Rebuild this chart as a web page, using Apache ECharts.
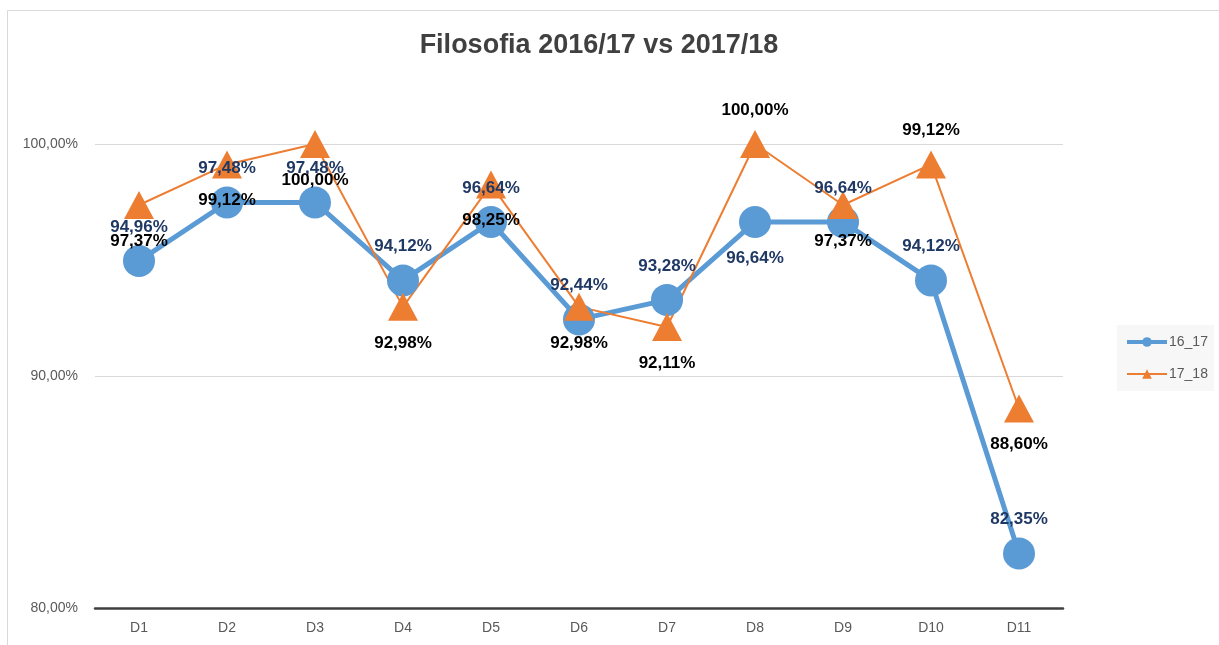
<!DOCTYPE html>
<html>
<head>
<meta charset="utf-8">
<script src="https://cdn.jsdelivr.net/npm/echarts@6/dist/echarts.min.js"></script>
<style>
html,body{margin:0;padding:0;background:#fff;}
#c{width:1219px;height:645px;}
</style>
</head>
<body>
<div id="c"></div>
<script>
const categories = ['D1','D2','D3','D4','D5','D6','D7','D8','D9','D10','D11'];
const s1617 = [94.96, 97.48, 97.48, 94.12, 96.64, 92.44, 93.28, 96.64, 96.64, 94.12, 82.35];
const s1718 = [97.37, 99.12, 100.00, 92.98, 98.25, 92.98, 92.11, 100.00, 97.37, 99.12, 88.60];
const seriesNames = ['16_17', '17_18'];
const yTicks = [80, 90, 100];

// label placement (above/below) per point
const below1617 = new Set([7]);
const above1718 = new Set([7, 9]);

const fmt = v => v.toFixed(2).replace('.', ',') + '%';
const FONT = "'Liberation Sans', Arial, sans-serif";

function labelled(values, isAbove, color) {
  return values.map((v, i) => {
    const up = isAbove(i);
    return {
      value: v,
      label: {
        show: true,
        position: 'inside',
        offset: [0, up ? -34 : 36],
        formatter: p => fmt(p.value),
        color: color,
        fontFamily: FONT,
        fontWeight: 'bold',
        fontSize: 17
      }
    };
  });
}

const chart = echarts.init(document.getElementById('c'), null, {renderer: 'canvas'});
chart.setOption({
  animation: false,
  backgroundColor: '#fff',
  title: {
    text: 'Filosofia 2016/17 vs 2017/18',
    left: 594, top: 27, textAlign: 'center',
    textStyle: {fontFamily: FONT, fontWeight: 'bold', fontSize: 27, color: '#404040'}
  },
  graphic: [{
    type: 'rect', silent: true, z: -10,
    shape: {x: 7.5, y: 10.5, width: 1300, height: 700},
    style: {fill: 'none', stroke: '#d9d9d9', lineWidth: 1}
  }],
  legend: {
    orient: 'vertical',
    left: 1117, top: 325,
    padding: [10, 6, 10, 8],
    backgroundColor: '#f7f7f7',
    itemWidth: 40, itemHeight: 12, itemGap: 18,
    data: [
      {name: seriesNames[0], lineStyle: {width: 4}},
      {name: seriesNames[1], lineStyle: {width: 2}}
    ],
    textStyle: {fontFamily: FONT, fontSize: 14, color: '#595959', padding: [0, 0, 0, -3]}
  },
  grid: {left: 95, right: 1219 - 1063, top: 28, bottom: 645 - 608, containLabel: false},
  xAxis: {
    type: 'category',
    data: categories,
    boundaryGap: true,
    axisLine: {show: true, lineStyle: {color: '#404040', width: 2.5}},
    axisTick: {show: false},
    axisLabel: {fontFamily: FONT, fontSize: 14, color: '#595959', margin: 13}
  },
  yAxis: {
    type: 'value',
    min: yTicks[0], max: 105, interval: yTicks[1] - yTicks[0],
    axisLine: {show: false},
    axisTick: {show: false},
    axisLabel: {
      fontFamily: FONT, fontSize: 14, color: '#595959', margin: 17,
      showMaxLabel: false,
      formatter: v => (yTicks.indexOf(v) >= 0 ? fmt(v) : '')
    },
    splitLine: {show: true, showMaxLine: false, showMinLine: false, lineStyle: {color: '#d9d9d9', width: 1}}
  },
  series: [
    {
      name: seriesNames[0],
      type: 'line',
      data: labelled(s1617, i => !below1617.has(i), '#1f3864'),
      symbol: 'circle',
      symbolSize: 32,
      lineStyle: {color: '#5b9bd5', width: 5},
      itemStyle: {color: '#5b9bd5'},
      z: 2
    },
    {
      name: seriesNames[1],
      type: 'line',
      data: labelled(s1718, i => above1718.has(i), '#000000'),
      symbol: 'triangle',
      symbolSize: [30, 28],
      lineStyle: {color: '#ed7d31', width: 2},
      itemStyle: {color: '#ed7d31'},
      z: 2
    }
  ]
});
</script>
</body>
</html>
